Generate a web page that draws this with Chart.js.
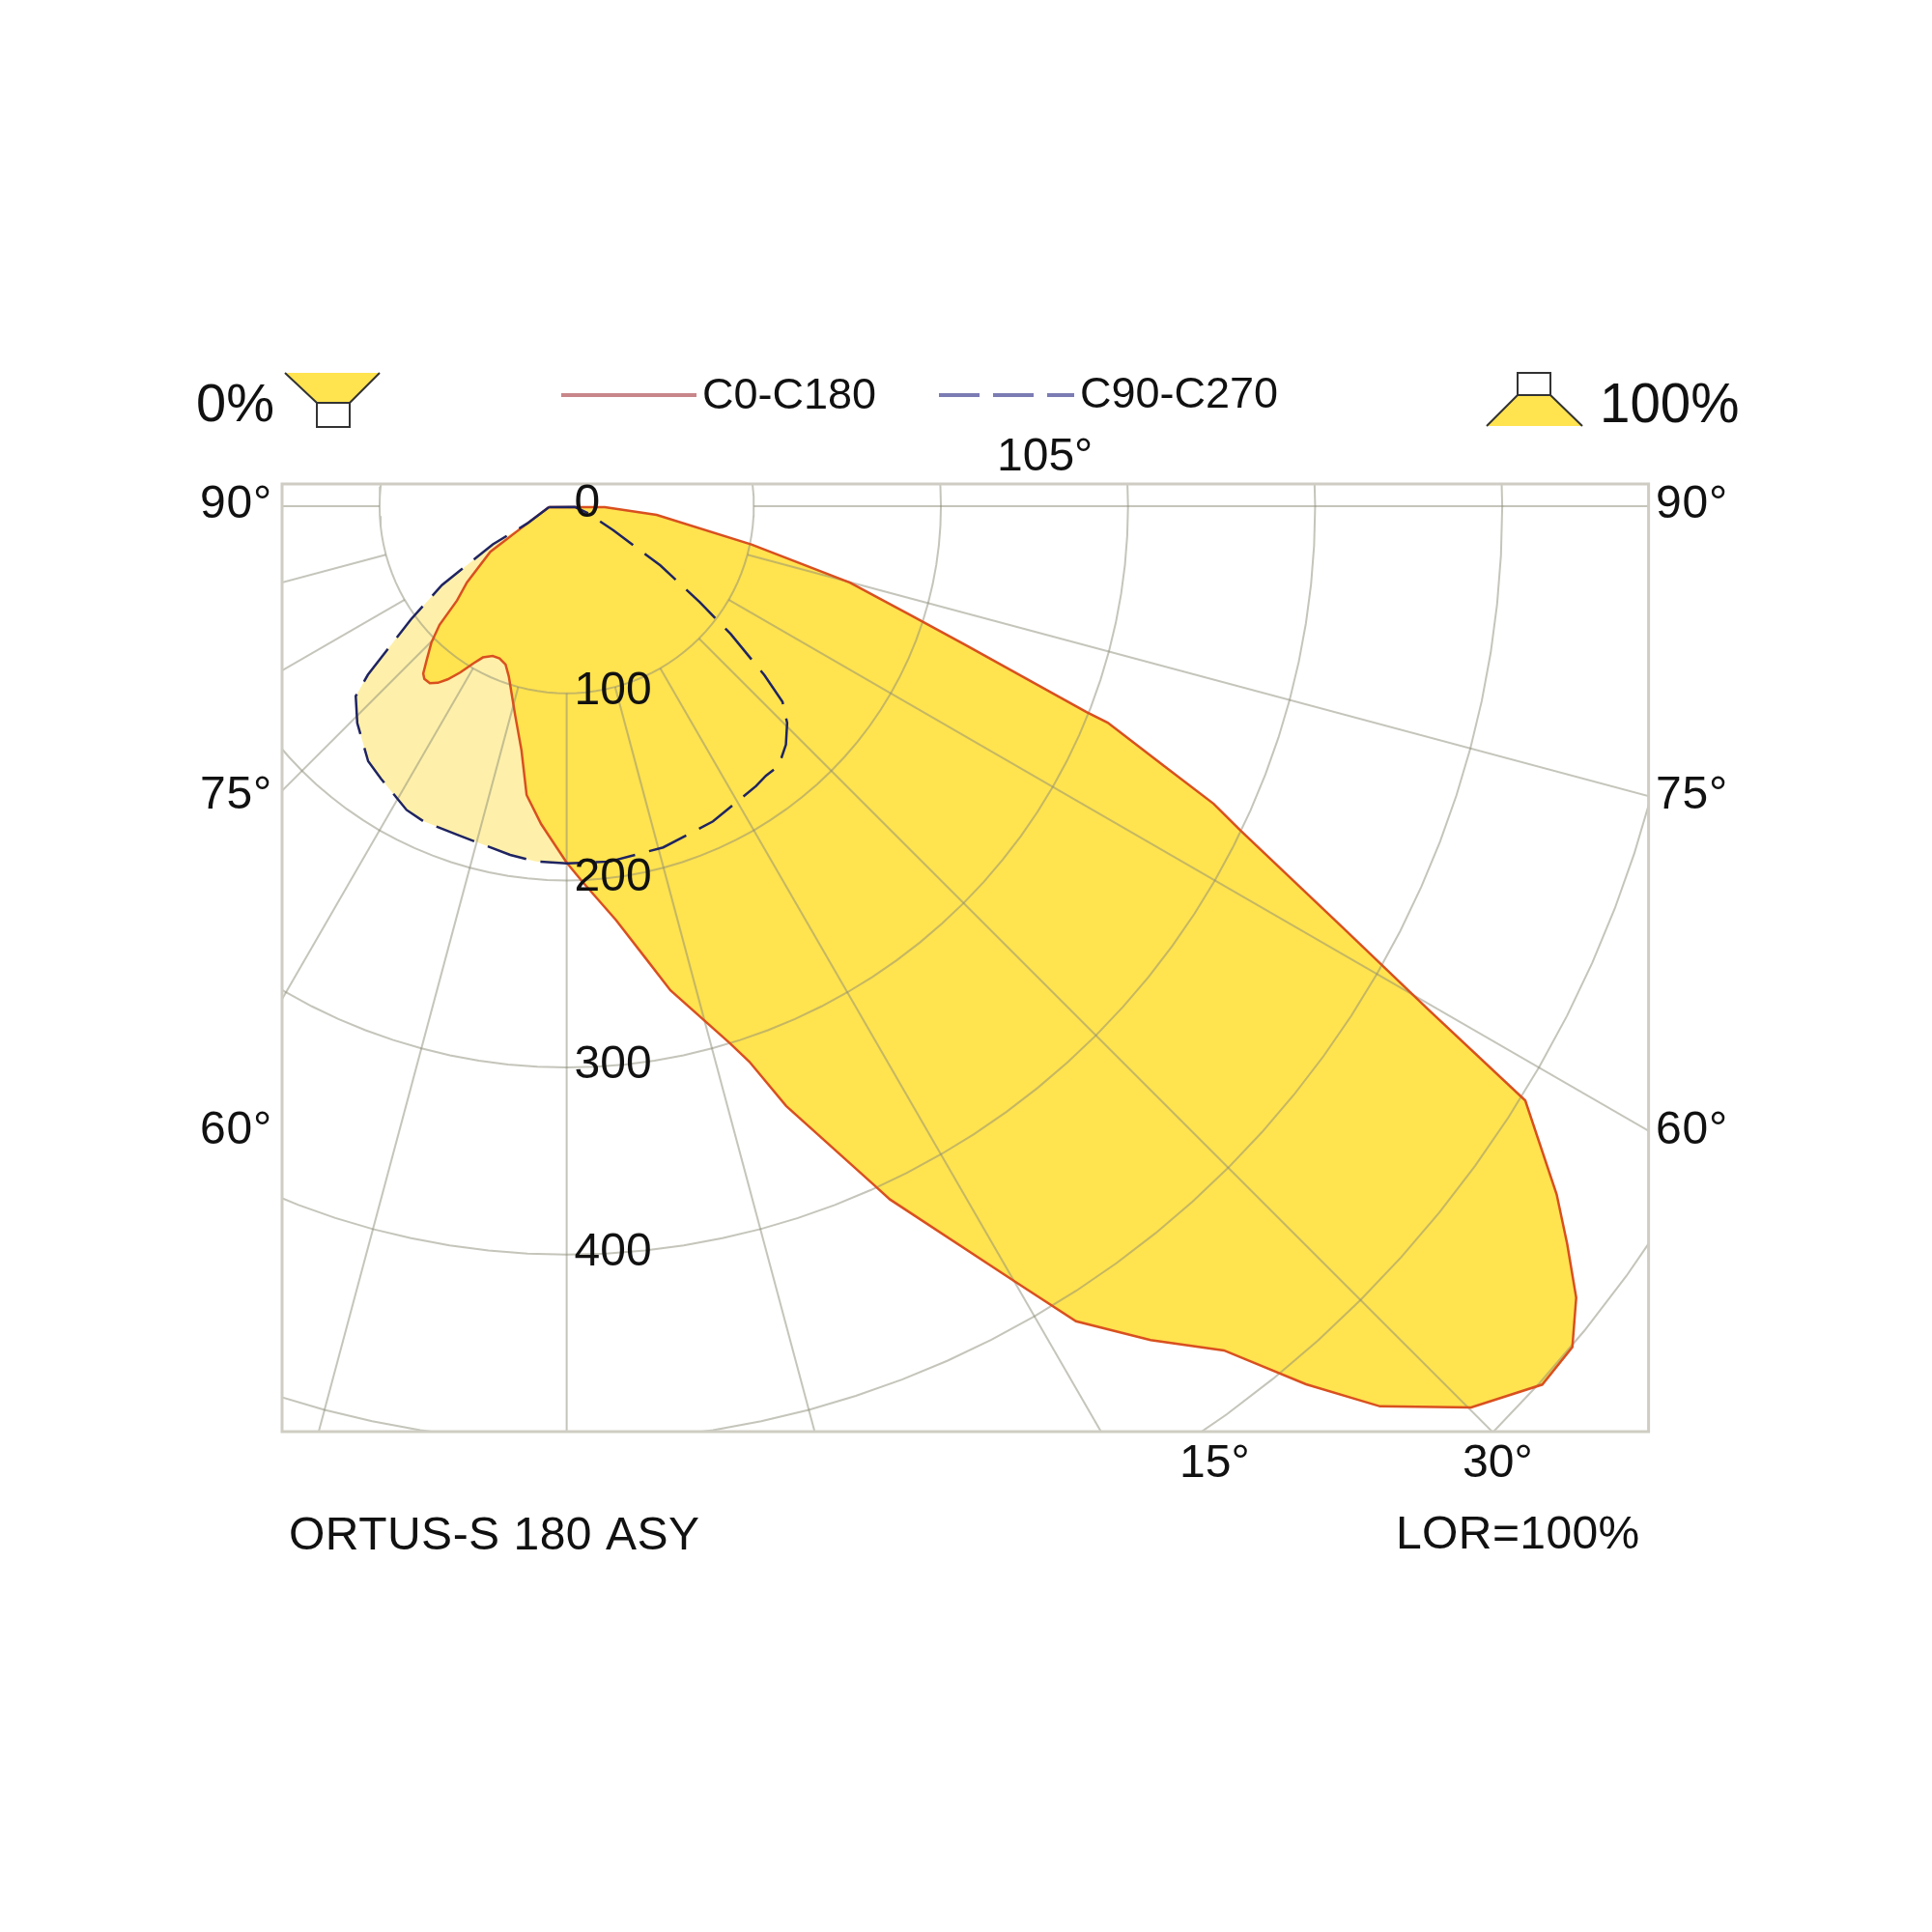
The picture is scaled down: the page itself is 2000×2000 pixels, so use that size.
<!DOCTYPE html>
<html>
<head>
<meta charset="utf-8">
<title>ORTUS-S 180 ASY</title>
<script src="https://cdn.jsdelivr.net/npm/chart.js@4/dist/chart.umd.min.js"></script>
<style>
  html, body { margin: 0; padding: 0; background: #fff; }
  #wrap { width: 2000px; height: 2000px; }
</style>
</head>
<body>
<div id="wrap"><canvas id="chart" width="2000" height="2000"></canvas></div>
<script>
// C0-C180 curve, clockwise from the top: angle from nadir (deg) and intensity (cd)
const c0Angles = [-87.2, 88.7, 84.5, 78.3, 74.9, 72.4, 70.8, 68.4, 68.2, 66.5, 65.3, 64.3, 61.5, 59.7, 58.2,
  55.2, 53.6, 51.9, 50.1, 48.0, 45.1, 42.1, 40.1, 37.9, 35.0, 32.0, 30.0, 25.0, 24.4, 20.1, 18.2, 16.9,
  12.1, 9.9, 6.8, 2.4, 0, -4.6, -7.9, -10.5, -13.9, -18.8, -21.1, -23.8, -26.3, -29.0, -30.7, -32.6, -34.5,
  -36.1, -37.7, -39.5, -40.6, -42.3, -44.8, -47.0, -49.3, -52.6, -59.2, -66.4, -87.2];
const c0Candela = [9.5, 20.4, 48.3, 100.8, 156.8, 193.4, 225.9, 298.8, 311.4, 348.2, 380.6, 399.6, 471.9, 533.7, 602.8,
  644.3, 664.3, 685.6, 700.6, 701.6, 682.4, 648.4, 613.5, 571.8, 544.1, 513.7, 478.1, 408.8, 398.9, 341.3, 312.5, 299.9,
  264.6, 245.2, 222.8, 200.9, 190.5, 170.4, 155.8, 132.6, 114.8, 96.0, 90.7, 88.9, 89.3, 92.4, 97.7, 105.4, 112.3,
  116.8, 119.6, 119.6, 117.8, 111.2, 102.6, 92.9, 77.3, 67.1, 47.5, 23.0, 9.5];

// C90-C270 curve
const c90Angles = [-87.2, 84.9, 71.8, 62.8, 57.7, 54.2, 52.1, 49.5, 47.8, 45.5, 42.6, 39.2, 36.5, 34.1, 24.9, 15.8, 6.9, 0,
  -5.0, -9.2, -18.2, -24.4, -27.8, -34.3, -37.9, -44.0, -48.0, -49.7, -54.0, -57.7, -62.7, -66.4, -87.2];
const c90Candela = [9.5, 4.4, 11.8, 28.1, 59.2, 87.7, 111, 138.9, 155.7, 165.2, 173.1, 179.2, 179.1, 180.6, 185.7, 189.5, 191.3, 190.9,
  190.6, 188.8, 185.1, 185, 183.5, 176.2, 172.7, 161.1, 151.7, 139.3, 102.9, 78.9, 44.4, 23.0, 9.5];

// grid
const ringValues = [100, 200, 300, 400, 500, 600, 700];
const spokeAngles = [-90, -75, -60, -45, -30, -15, 0, 15, 30, 45, 60, 75, 90];
const ringLabels = [0, 100, 200, 300, 400];

const gridColor = "rgba(140, 140, 120, 0.5)";
const font = "Liberation Sans, Arial, sans-serif";

// polar value -> point in the chart's cd scales
function polar(angle, cd) {
    const a = angle * Math.PI / 180;
    return { x: cd * Math.sin(a), y: -cd * Math.cos(a) };
}

function curvePoints(angles, values) {
    return angles.map((a, i) => polar(a, values[i]));
}

function ringPoints(value) {
    const pts = [];
    for (let a = 0; a <= 360; a += 3) pts.push(polar(a, value));
    return pts;
}

function lineSet(data, color, width, dash) {
    return { data, borderColor: color, borderWidth: width, borderDash: dash || [], fill: false, showLine: true, pointRadius: 0, tension: 0 };
}

function fillSet(data, color) {
    return { data, backgroundColor: color, borderColor: color, borderWidth: 0, fill: "shape", showLine: true, pointRadius: 0, tension: 0 };
}

const c0Points = curvePoints(c0Angles, c0Candela);
const c90Points = curvePoints(c90Angles, c90Candela);

// Chart.js paints the last dataset first, so the outlines go at the front of the list
const datasets = [
    lineSet(c90Points, "#1f2462", 2.5, [42, 15]),
    lineSet(c0Points, "#d9501f", 2.5),
];
ringValues.forEach((v) => datasets.push(lineSet(ringPoints(v), gridColor, 2)));
spokeAngles.forEach((a) => datasets.push(lineSet([polar(a, 100), polar(a, 1300)], gridColor, 2)));
datasets.push(fillSet(c0Points, "#ffe34f"));
datasets.push(fillSet(c90Points, "#fef0aa"));

function text(ctx, str, x, y, size, spacing) {
    ctx.font = size + "px " + font;
    ctx.letterSpacing = (spacing || 0) + "px";
    ctx.fillText(str, x, y);
}

function legendLine(ctx, x1, x2, y, color, dash) {
    ctx.save();
    ctx.strokeStyle = color;
    ctx.lineWidth = 4;
    ctx.setLineDash(dash || []);
    ctx.beginPath();
    ctx.moveTo(x1, y);
    ctx.lineTo(x2, y);
    ctx.stroke();
    ctx.restore();
}

// lamp icons beside 0% and 100%
function lampIcon(ctx, wideY, narrowY, boxY, wideL, wideR, narrowL, narrowR) {
    ctx.save();
    ctx.fillStyle = "#ffe34f";
    ctx.beginPath();
    ctx.moveTo(wideL, wideY);
    ctx.lineTo(wideR, wideY);
    ctx.lineTo(narrowR, narrowY);
    ctx.lineTo(narrowL, narrowY);
    ctx.closePath();
    ctx.fill();
    ctx.strokeStyle = "#333";
    ctx.lineWidth = 2;
    ctx.beginPath();
    ctx.moveTo(wideL, wideY);
    ctx.lineTo(narrowL, narrowY);
    ctx.moveTo(wideR, wideY);
    ctx.lineTo(narrowR, narrowY);
    ctx.stroke();
    ctx.strokeRect(narrowL, Math.min(narrowY, boxY), narrowR - narrowL, Math.abs(boxY - narrowY));
    ctx.restore();
}

const decorations = {
    id: "decorations",
    afterDraw(chart) {
        const ctx = chart.ctx;
        const area = chart.chartArea;
        const x = chart.scales.x;
        const y = chart.scales.y;

        // frame
        ctx.save();
        ctx.strokeStyle = "#cfcdc3";
        ctx.lineWidth = 3;
        ctx.strokeRect(area.left, area.top, area.right - area.left, area.bottom - area.top);

        ctx.fillStyle = "#111";
        ctx.textBaseline = "alphabetic";
        ringLabels.forEach((v) => {
            text(ctx, String(v), x.getPixelForValue(0) + 8, y.getPixelForValue(-v) + 11, 48);
        });

        text(ctx, "90°", 207, 536, 48, 0.8);
        text(ctx, "75°", 207, 837, 48, 0.8);
        text(ctx, "60°", 207, 1184, 48, 0.8);
        text(ctx, "90°", 1714, 536, 48, 0.8);
        text(ctx, "75°", 1714, 837, 48, 0.8);
        text(ctx, "60°", 1714, 1184, 48, 0.8);
        text(ctx, "105°", 1032, 487, 48);
        text(ctx, "15°", 1221, 1529, 48);
        text(ctx, "30°", 1514, 1529, 48);
        text(ctx, "ORTUS-S 180 ASY", 299, 1604, 48, 0.5);
        text(ctx, "LOR=100%", 1445, 1603, 48, 0.4);

        text(ctx, "0%", 203, 436, 56);
        text(ctx, "100%", 1656, 437, 56.5);
        text(ctx, "C0-C180", 727, 423, 45);
        text(ctx, "C90-C270", 1118, 422, 45);

        legendLine(ctx, 581, 721, 409, "#c8868a");
        legendLine(ctx, 972, 1112, 409, "#7c7cb4", [42, 14]);

        lampIcon(ctx, 386, 417, 442, 295, 393, 328, 362);
        lampIcon(ctx, 441, 409, 386, 1539, 1638, 1571, 1605);
        ctx.restore();
    },
};

new Chart(document.getElementById("chart"), {
    type: "scatter",
    data: { datasets },
    plugins: [decorations],
    options: {
        responsive: false,
        animation: false,
        devicePixelRatio: 1,
        layout: { padding: { left: 292, right: 293.4, top: 501, bottom: 518 } },
        plugins: { legend: { display: false }, tooltip: { enabled: false } },
        scales: {
            x: { type: "linear", display: false, min: -152.1, max: 578.2 },
            y: { type: "linear", display: false, min: -494.6, max: 11.9 },
        },
    },
});
</script>
</body>
</html>
